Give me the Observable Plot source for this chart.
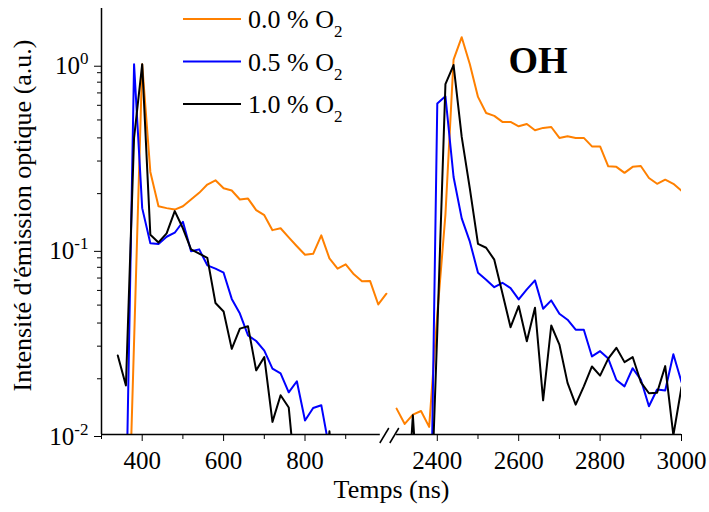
<!DOCTYPE html>
<html><head><meta charset="utf-8">
<script src="https://cdn.jsdelivr.net/npm/d3@7"></script>
<script src="https://cdn.jsdelivr.net/npm/@observablehq/plot@0.6"></script>
<style>
body{margin:0;background:#fff}
#chart{position:relative;width:709px;height:512px}
</style>
</head><body><div id="chart"></div>
<script>
// ---------------- data ----------------
const seriesNames = ["0.0 % O2", "0.5 % O2", "1.0 % O2"];
const seriesColors = ["#ff8000", "#0000ff", "#000000"];

// 0.0 % O2 (orange)
const orangeLeftT  = [360, 400, 420, 440, 460, 480, 500, 520, 540, 560, 580, 600, 620, 640, 660, 680, 700, 720, 740, 760, 780, 800, 820, 840, 860, 880, 900, 920, 940, 960, 980, 1000];
const orangeLeftV  = [0.001, 1.0, 0.262, 0.171, 0.167, 0.164, 0.171, 0.186, 0.202, 0.224, 0.236, 0.214, 0.208, 0.186, 0.188, 0.163, 0.153, 0.127, 0.130, 0.116, 0.104, 0.0936, 0.0946, 0.119, 0.0894, 0.0787, 0.083, 0.0733, 0.0672, 0.0674, 0.0504, 0.0576];
const orangeRightT = [2300, 2320, 2340, 2360, 2380, 2400, 2420, 2440, 2460, 2480, 2500, 2520, 2540, 2560, 2580, 2600, 2620, 2640, 2660, 2680, 2700, 2720, 2740, 2760, 2780, 2800, 2820, 2840, 2860, 2880, 2900, 2920, 2940, 2960, 2980, 3000];
const orangeRightV = [0.0138, 0.0114, 0.0128, 0.0134, 0.011, 0.0445, 0.154, 1.06, 1.4, 1.0, 0.666, 0.545, 0.526, 0.488, 0.488, 0.462, 0.476, 0.44, 0.453, 0.458, 0.40, 0.408, 0.40, 0.40, 0.36, 0.36, 0.281, 0.279, 0.259, 0.279, 0.282, 0.243, 0.226, 0.238, 0.226, 0.207];

// 0.5 % O2 (blue)
const blueLeftT  = [360, 380, 400, 420, 440, 460, 480, 500, 520, 540, 560, 580, 600, 620, 640, 660, 680, 700, 720, 740, 760, 780, 800, 820, 840, 860];
const blueLeftV  = [0.0035, 1.0, 0.167, 0.108, 0.107, 0.117, 0.123, 0.141, 0.0977, 0.1, 0.082, 0.0787, 0.0748, 0.054, 0.045, 0.0343, 0.032, 0.0284, 0.0227, 0.0214, 0.0169, 0.0194, 0.0119, 0.0139, 0.0144, 0.0083];
const blueRightT = [2380, 2400, 2420, 2440, 2460, 2480, 2500, 2520, 2540, 2560, 2580, 2600, 2620, 2640, 2660, 2680, 2700, 2720, 2740, 2760, 2780, 2800, 2820, 2840, 2860, 2880, 2900, 2920, 2940, 2960, 2980, 3000];
const blueRightV = [0.0008, 0.614, 0.671, 0.246, 0.147, 0.11, 0.0748, 0.0686, 0.0625, 0.066, 0.0618, 0.0537, 0.0608, 0.068, 0.0478, 0.053, 0.0449, 0.0417, 0.0368, 0.0368, 0.0264, 0.0282, 0.0257, 0.0197, 0.0182, 0.0228, 0.0198, 0.0142, 0.0175, 0.0173, 0.0271, 0.0192];

// 1.0 % O2 (black)
const blackLeftT  = [340, 360, 380, 400, 420, 440, 460, 480, 500, 520, 540, 560, 580, 600, 620, 640, 660, 680, 700, 720, 740, 760, 780, 800, 820, 840, 860, 880];
const blackLeftV  = [0.0267, 0.0184, 0.4, 1.0, 0.12, 0.109, 0.122, 0.161, 0.13, 0.1, 0.0948, 0.09, 0.0513, 0.0462, 0.029, 0.0373, 0.0384, 0.0222, 0.0262, 0.0117, 0.0163, 0.014, 0.0049, 0.004, 0.004, 0.003, 0.0104, 0.003];
const blackRightT = [2320, 2340, 2360, 2380, 2400, 2420, 2440, 2460, 2480, 2500, 2520, 2540, 2560, 2580, 2600, 2620, 2640, 2660, 2680, 2700, 2720, 2740, 2760, 2780, 2800, 2820, 2840, 2860, 2880, 2900, 2920, 2940, 2960, 2980, 3000];
const blackRightV = [0.0025, 0.0127, 0.0025, 0.002, 0.036, 0.78, 0.99, 0.405, 0.213, 0.107, 0.102, 0.088, 0.058, 0.038, 0.0494, 0.0319, 0.0484, 0.0153, 0.0388, 0.0306, 0.019, 0.0145, 0.0182, 0.0233, 0.0208, 0.0257, 0.0294, 0.0246, 0.0262, 0.0192, 0.0167, 0.0168, 0.0234, 0.0099, 0.018];

// axes
const xMajorTicks = [400, 600, 800, 2400, 2600, 2800, 3000];
const xMinorTicks = [300, 500, 700, 900, 2500, 2700, 2900];
const xSegments = [[300, 985], [2300, 3000]];
const yMajorTicks = [0.01, 0.1, 1];
const yMinorTicks = [0.02, 0.03, 0.04, 0.05, 0.06, 0.07, 0.08, 0.09, 0.2, 0.3, 0.4, 0.5, 0.6, 0.7, 0.8, 0.9];
const yDomain = [0.01, 2];
const xTitle = "Temps (ns)";
const yTitle = "Intensité d'émission optique (a.u.)";
const annotation = "OH";

// ---------------- broken axis transform ----------------
const breakAt = 2000, shift = 1275;
const xt = t => (t < breakAt ? t : t - shift);
const xinv = u => (u < breakAt - shift + 300 ? u : u + shift);

const panels = [
  [0, orangeLeftT, orangeLeftV, "L"], [0, orangeRightT, orangeRightV, "R"],
  [1, blueLeftT, blueLeftV, "L"], [1, blueRightT, blueRightV, "R"],
  [2, blackLeftT, blackLeftV, "L"], [2, blackRightT, blackRightV, "R"]
];
const rows = [];
for (const [s, T, V, p] of panels) T.forEach((t, i) => rows.push({series: seriesNames[s], panel: p, t, v: V[i]}));

const font = '"Liberation Serif", "Times New Roman", serif';

const plot = Plot.plot({
  width: 709, height: 512,
  marginLeft: 101, marginRight: 28, marginTop: 8, marginBottom: 78,
  style: {fontFamily: font, fontSize: "25px", color: "#000", background: "#fff", overflow: "visible"},
  x: {type: "linear", domain: [xt(xSegments[0][0]), xt(xSegments[1][1])]},
  y: {type: "log", domain: yDomain, label: null},
  color: {domain: seriesNames, range: seriesColors},
  marks: [
    Plot.line(rows, {x: d => xt(d.t), y: "v", stroke: "series", z: d => d.series + d.panel, strokeWidth: 2, clip: true}),
    Plot.ruleX([xt(xSegments[0][0])], {stroke: "#000", strokeWidth: 1.5}),
    ...xSegments.map(([a, b]) => Plot.ruleY([yDomain[0]], {x1: xt(a), x2: xt(b), stroke: "#000", strokeWidth: 1.5})),
    Plot.axisX({ticks: xMajorTicks.map(xt), tickFormat: d => String(xinv(d)), tickSize: 7, tickPadding: 10, label: null}),
    Plot.axisX({ticks: xMinorTicks.map(xt), tickFormat: () => "", tickSize: 5, label: null}),
    Plot.axisY({ticks: yMajorTicks, tickFormat: d => String(Math.round(Math.log10(d))), tickSize: 7, tickPadding: 6, label: null, dy: 2}),
    Plot.axisY({ticks: yMinorTicks, tickFormat: () => "", tickSize: 4, label: null}),
    Plot.text([yTitle], {frameAnchor: "left", textAnchor: "middle", rotate: -90, dx: -79, dy: -6, text: d => d, fontSize: 26}),
    Plot.text([xTitle], {frameAnchor: "bottom", textAnchor: "middle", dy: 63, text: d => d, fontSize: 26})
  ]
});

// superscript powers of ten on y tick labels
plot.querySelectorAll('g[aria-label="y-axis tick label"] text').forEach(t => {
  const e = t.textContent;
  if (!e) return;
  t.textContent = "";
  const ns = "http://www.w3.org/2000/svg";
  const a = document.createElementNS(ns, "tspan"); a.textContent = "10"; t.appendChild(a);
  const b = document.createElementNS(ns, "tspan"); b.textContent = e; b.setAttribute("dy", "-10"); b.setAttribute("font-size", "17"); t.appendChild(b);
});

const svg = d3.select(plot);
const xs = plot.scale("x"), ys = plot.scale("y");
const yBase = ys.apply(yDomain[0]);
// axis break marks
const L = xs.apply(xt(xSegments[0][1]));
[0, 10].forEach(o => svg.append("line")
  .attr("x1", L + o).attr("y1", yBase + 9).attr("x2", L + o + 9).attr("y2", yBase - 6)
  .attr("stroke", "#000").attr("stroke-width", 1.5));

// legend
const lg = svg.append("g").attr("font-family", font).attr("font-size", 26).attr("text-anchor", "start");
seriesNames.forEach((n, i) => {
  const cy = 19 + i * 42.5;
  lg.append("line").attr("x1", 183).attr("x2", 241).attr("y1", cy).attr("y2", cy).attr("stroke", seriesColors[i]).attr("stroke-width", 2);
  const t = lg.append("text").attr("x", 248).attr("y", cy + 9);
  t.append("tspan").text(n.slice(0, -1));
  t.append("tspan").attr("dy", 9).attr("font-size", 17).text(n.slice(-1));
});
// annotation
svg.append("text").attr("x", 538).attr("y", 73).attr("text-anchor", "middle")
  .attr("font-family", font).attr("font-weight", "bold").attr("font-size", 38).text(annotation);

document.getElementById("chart").appendChild(plot);
</script>
</body></html>
